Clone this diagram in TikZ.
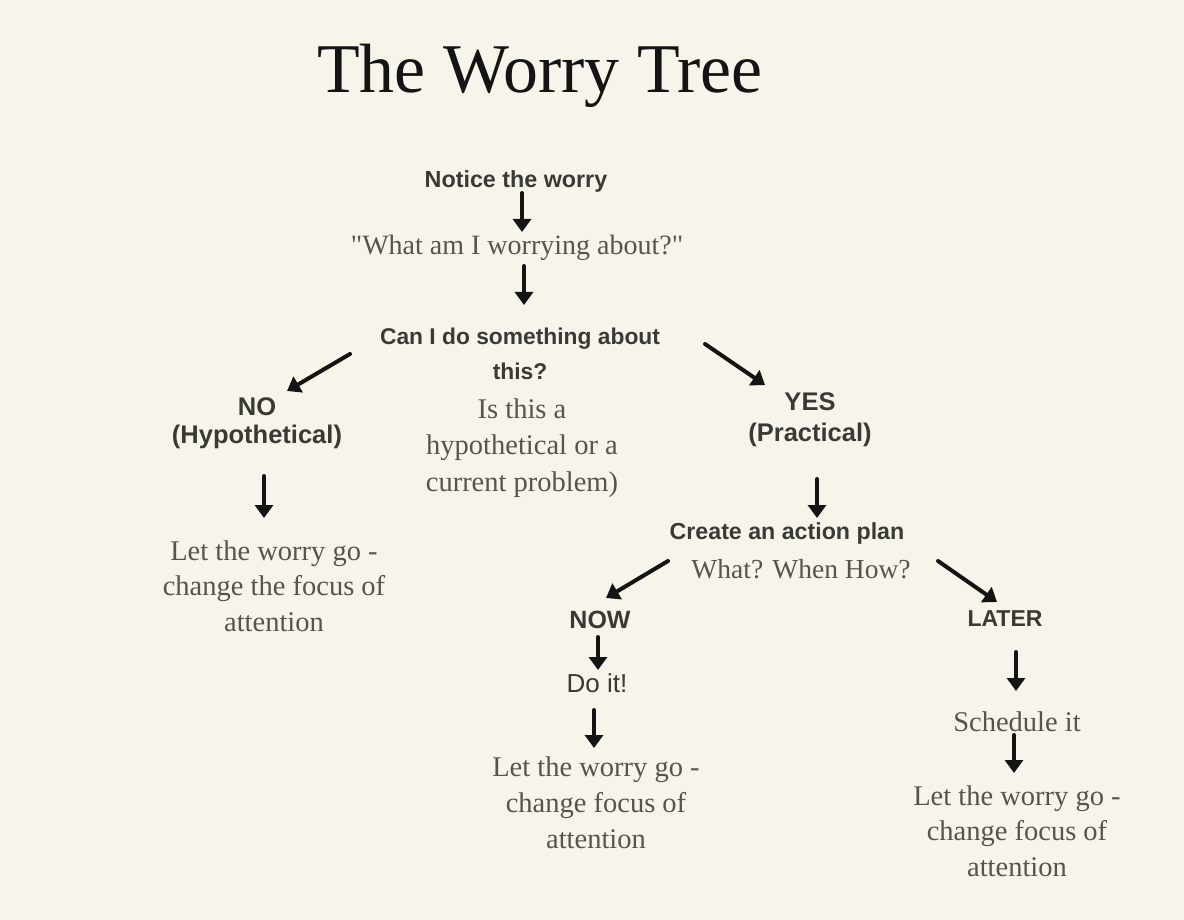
\documentclass[tikz,border=0pt]{standalone}
\usepackage{fontspec}
\usetikzlibrary{arrows.meta}
\newfontfamily\boldsans{Liberation Sans}
\newfontfamily\serifface[Ligatures=NoCommon]{Liberation Serif}
\definecolor{bg}{HTML}{F7F4EC}
\definecolor{darktext}{HTML}{3A3A35}
\definecolor{greytext}{HTML}{55554E}
\tikzset{
  x=1pt, y=-1pt,
  title/.style={font=\serifface\fontsize{69.8}{72}\selectfont, text=black!92, inner sep=0pt},
  bsans/.style={text=darktext, align=center, inner sep=0pt},
  rsans/.style={text=darktext, align=center, inner sep=0pt},
  serif/.style={text=greytext, align=center, inner sep=0pt},
  arr/.style={line width=4pt, line cap=round, draw=black!92, -{Triangle[length=13pt,width=18pt]}},
}
\newcommand{\bsz}[2]{\boldsans\bfseries\fontsize{#1}{#2}\selectfont}
\newcommand{\ssz}[2]{\serifface\fontsize{#1}{#2}\selectfont}
\begin{document}
\begin{tikzpicture}
\fill[bg] (0,0) rectangle (1184,920);
\useasboundingbox (0,0) rectangle (1184,920);

\node[title] (title) at (540,76) {The Worry Tree};

\node[bsans, font=\bsz{23.3}{30}] (notice) at (516,181) {Notice the worry};
\node[serif, font=\ssz{28}{36}] (what) at (517,248) {\symbol{"22}What am I worrying about?\symbol{"22}};
\node[bsans, font=\bsz{22.8}{35}] (can) at (520,354) {Can I do something about\\this?};
\node[bsans, font=\bsz{25.5}{28}] (no) at (257,423) {NO\\(Hypothetical)};
\node[serif, font=\ssz{28.5}{36.5}] (isthis) at (522,448) {Is this a\\hypothetical or a\\current problem)};
\node[bsans, font=\bsz{25.5}{31}] (yes) at (810,420) {YES\\(Practical)};
\node[serif, font=\ssz{28.5}{35.5}] (letgo1) at (274,586) {Let the worry go -\\change the focus of\\attention};
\node[bsans, font=\bsz{23.2}{30}] (create) at (787,533) {Create an action plan};
\node[serif, font=\ssz{27.5}{30}] (whatwhen) at (801,569) {What? When How?};
\node[bsans, font=\bsz{25}{30}] (now) at (600,620) {NOW};
\node[rsans, font=\boldsans\fontsize{26}{30}\selectfont] (doit) at (597,683) {Do it!};
\node[serif, font=\ssz{28.5}{36}] (letgo2) at (596,803) {Let the worry go -\\change focus of\\attention};
\node[bsans, font=\bsz{23}{30}] (later) at (1005,619) {LATER};
\node[serif, font=\ssz{28.5}{30}] (schedule) at (1017,722) {Schedule it};
\node[serif, font=\ssz{28.5}{35.5}] (letgo3) at (1017,831) {Let the worry go -\\change focus of\\attention};

% arrow end points, placed next to the nodes they join
\coordinate (a1s) at (522,193); \coordinate (a1e) at (522,232);
\coordinate (a2s) at (524,266); \coordinate (a2e) at (524,305);
\coordinate (a3s) at (350,354); \coordinate (a3e) at (287,391);
\coordinate (a4s) at (705,344); \coordinate (a4e) at (765,385);
\coordinate (a5s) at (264,476); \coordinate (a5e) at (264,518);
\coordinate (a6s) at (817,479); \coordinate (a6e) at (817,518);
\coordinate (a7s) at (668,561); \coordinate (a7e) at (606,598);
\coordinate (a8s) at (938,561); \coordinate (a8e) at (997,602);
\coordinate (a9s) at (598,637); \coordinate (a9e) at (598,670);
\coordinate (a10s) at (594,710); \coordinate (a10e) at (594,748);
\coordinate (a11s) at (1016,652); \coordinate (a11e) at (1016,691);
\coordinate (a12s) at (1014,735); \coordinate (a12e) at (1014,773);

\draw[arr] (a1s) -- (a1e);
\draw[arr] (a2s) -- (a2e);
\draw[arr] (a3s) -- (a3e);
\draw[arr] (a4s) -- (a4e);
\draw[arr] (a5s) -- (a5e);
\draw[arr] (a6s) -- (a6e);
\draw[arr] (a7s) -- (a7e);
\draw[arr] (a8s) -- (a8e);
\draw[arr] (a9s) -- (a9e);
\draw[arr] (a10s) -- (a10e);
\draw[arr] (a11s) -- (a11e);
\draw[arr] (a12s) -- (a12e);
\end{tikzpicture}
\end{document}
